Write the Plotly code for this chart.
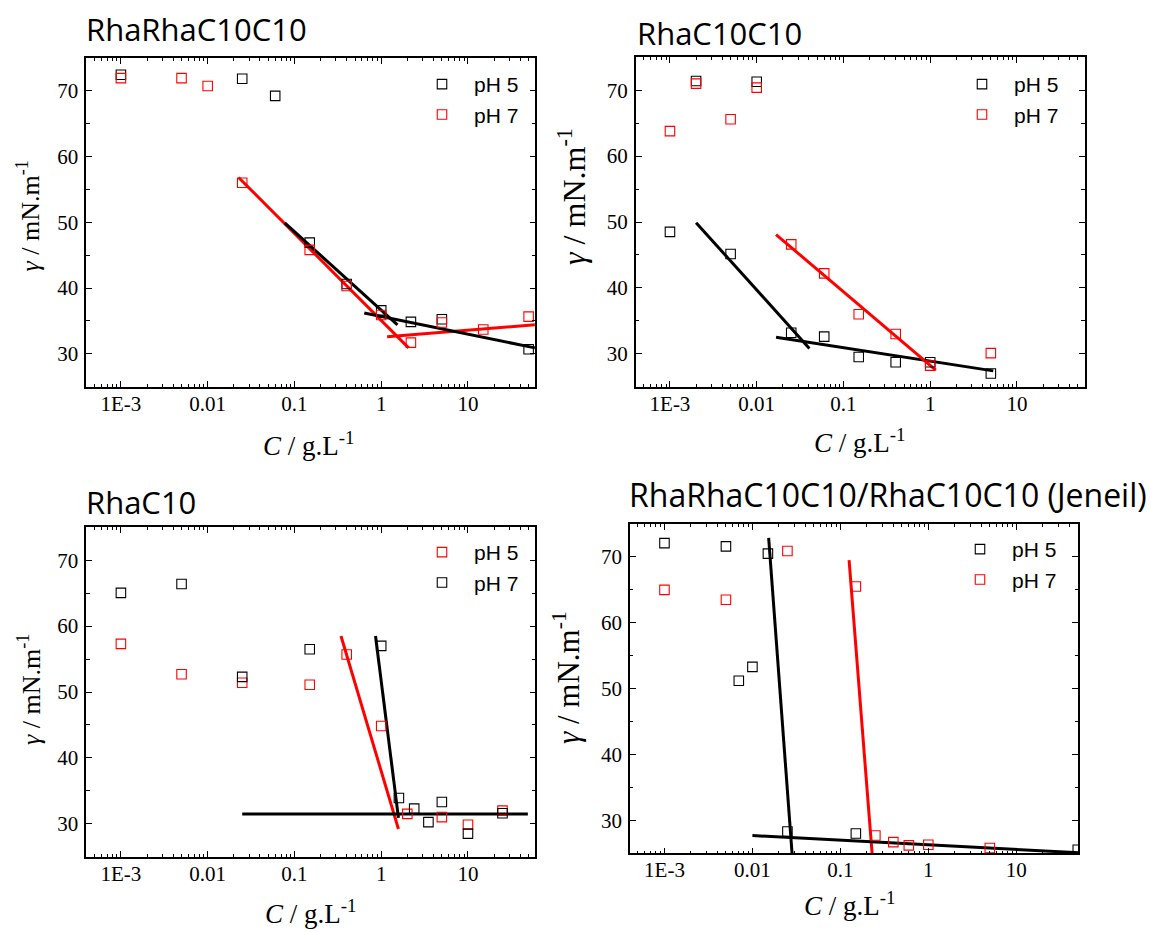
import plotly.graph_objects as go

W, H = 1151, 932

# ---------------- data ----------------
# Panel 1: RhaRhaC10C10
p1_ph5_x = [0.001, 0.025, 0.06, 0.15, 0.4, 1, 2.2, 5, 50]
p1_ph5_y = [72.4, 71.8, 69.2, 46.9, 40.6, 36.6, 34.85, 35.25, 30.7]
p1_ph7_x = [0.001, 0.005, 0.01, 0.025, 0.15, 0.4, 1, 2.2, 5, 15, 50]
p1_ph7_y = [71.9, 71.9, 70.7, 56.0, 45.8, 40.3, 35.9, 31.7, 34.75, 33.7, 35.65]
p1_fit_k1_x = [0.0773, 1.54]
p1_fit_k1_y = [49.9, 34.4]
p1_fit_k2_x = [0.638, 59]
p1_fit_k2_y = [36.2, 30.9]
p1_fit_r1_x = [0.0227, 2.07]
p1_fit_r1_y = [56.8, 30.9]
p1_fit_r2_x = [1.17, 59]
p1_fit_r2_y = [32.6, 34.4]

# Panel 2: RhaC10C10
p2_x = [0.001, 0.002, 0.005, 0.01, 0.025, 0.06, 0.15, 0.4, 1, 5]
p2_ph5_y = [48.5, 71.4, 45.15, 71.3, 33.2, 32.6, 29.5, 28.7, 28.7, 27.0]
p2_ph7_y = [63.8, 71.0, 65.6, 70.4, 46.6, 42.2, 36.0, 33.0, 28.2, 30.1]
p2_fit_k1_x = [0.002, 0.0405]
p2_fit_k1_y = [49.9, 30.8]
p2_fit_k2_x = [0.0167, 5.33]
p2_fit_k2_y = [32.5, 27.4]
p2_fit_r1_x = [0.0167, 1.16]
p2_fit_r1_y = [48.1, 27.5]

# Panel 3: RhaC10
p3_ph5_x = [0.001, 0.005, 0.025, 0.15, 0.4, 1, 2, 5, 10, 25]
p3_ph5_y = [57.3, 52.7, 51.4, 51.1, 55.7, 44.85, 31.5, 31.0, 29.85, 32.0]
p3_ph7_x = [0.001, 0.005, 0.025, 0.15, 1, 1.6, 2.4, 3.5, 5, 10, 25]
p3_ph7_y = [65.05, 66.4, 52.3, 56.5, 57.0, 33.9, 32.3, 30.25, 33.3, 28.5, 31.6]
p3_fit_k1_x = [0.025, 49]
p3_fit_k1_y = [31.5, 31.5]
p3_fit_r1_x = [0.344, 1.58]
p3_fit_r1_y = [58.5, 29.2]
p3_fit_k2_x = [0.86, 1.58]
p3_fit_k2_y = [58.5, 30.9]

# Panel 4: RhaRhaC10C10/RhaC10C10 (Jeneil)
p4_ph5_x = [0.001, 0.005, 0.007, 0.01, 0.015, 0.025, 0.15, 50]
p4_ph5_y = [72.1, 71.6, 51.2, 53.3, 70.5, 28.3, 28.0, 25.55]
p4_ph7_x = [0.001, 0.005, 0.025, 0.15, 0.25, 0.4, 0.6, 1, 5]
p4_ph7_y = [65.0, 63.5, 70.9, 65.5, 27.7, 26.7, 26.2, 26.3, 25.8]
p4_fit_k1_x = [0.0153, 0.0284]
p4_fit_k1_y = [72.9, 24.5]
p4_fit_r1_x = [0.1256, 0.231]
p4_fit_r1_y = [69.5, 24.5]
p4_fit_k2_x = [0.01, 67]
p4_fit_k2_y = [27.7, 25.0]

titles = ["RhaRhaC10C10", "RhaC10C10", "RhaC10", "RhaRhaC10C10/RhaC10C10 (Jeneil)"]
y_title = "<i>γ</i> / mN.m<sup>-1</sup>"
x_title = "<i>C</i> / g.L<sup>-1</sup>"

# ---------------- layout geometry (pixels) ----------------
boxes = [  # left, right, top, bottom
    (86.2, 535.3, 57.7, 386.7),
    (635.7, 1084.7, 57.3, 386.7),
    (86.2, 535.3, 527.3, 856.7),
    (629.9, 1078.2, 524.0, 853.3),
]
xranges = [[-3.40, 1.776], [-3.395, 1.781], [-3.40, 1.776], [-3.393, 1.704]]

BLACK = "black"
RED = "#ff0000"

fig = go.Figure()


def pts(x, y, color, name, i, legend):
    fig.add_trace(go.Scatter(
        x=x, y=y, mode="markers", name=name,
        marker=dict(symbol="square-open", size=9.5, color=color, line=dict(width=1.1)),
        xaxis="x" + ("" if i == 1 else str(i)), yaxis="y" + ("" if i == 1 else str(i)),
        legend=legend, showlegend=True))


def fit(x, y, color, i):
    fig.add_trace(go.Scatter(
        x=x, y=y, mode="lines", line=dict(color=color, width=3),
        xaxis="x" + ("" if i == 1 else str(i)), yaxis="y" + ("" if i == 1 else str(i)),
        showlegend=False, hoverinfo="skip"))


# panel 1
fit(p1_fit_r1_x, p1_fit_r1_y, RED, 1)
fit(p1_fit_r2_x, p1_fit_r2_y, RED, 1)
fit(p1_fit_k1_x, p1_fit_k1_y, BLACK, 1)
fit(p1_fit_k2_x, p1_fit_k2_y, BLACK, 1)
pts(p1_ph5_x, p1_ph5_y, BLACK, "pH 5", 1, "legend")
pts(p1_ph7_x, p1_ph7_y, RED, "pH 7", 1, "legend")
# panel 2
fit(p2_fit_k1_x, p2_fit_k1_y, BLACK, 2)
fit(p2_fit_k2_x, p2_fit_k2_y, BLACK, 2)
fit(p2_fit_r1_x, p2_fit_r1_y, RED, 2)
pts(p2_x, p2_ph5_y, BLACK, "pH 5", 2, "legend2")
pts(p2_x, p2_ph7_y, RED, "pH 7", 2, "legend2")
# panel 3
fit(p3_fit_r1_x, p3_fit_r1_y, RED, 3)
fit(p3_fit_k1_x, p3_fit_k1_y, BLACK, 3)
fit(p3_fit_k2_x, p3_fit_k2_y, BLACK, 3)
pts(p3_ph5_x, p3_ph5_y, RED, "pH 5", 3, "legend3")
pts(p3_ph7_x, p3_ph7_y, BLACK, "pH 7", 3, "legend3")
# panel 4
fit(p4_fit_k1_x, p4_fit_k1_y, BLACK, 4)
fit(p4_fit_r1_x, p4_fit_r1_y, RED, 4)
fit(p4_fit_k2_x, p4_fit_k2_y, BLACK, 4)
pts(p4_ph5_x, p4_ph5_y, BLACK, "pH 5", 4, "legend4")
pts(p4_ph7_x, p4_ph7_y, RED, "pH 7", 4, "legend4")

layout = dict(width=W, height=H, margin=dict(l=0, r=0, t=0, b=0),
              paper_bgcolor="white", plot_bgcolor="white", showlegend=True)

tickfont = dict(family="Liberation Serif", size=21, color="black")
for i, (l, r, t, b) in enumerate(boxes, start=1):
    sfx = "" if i == 1 else str(i)
    layout["xaxis" + sfx] = dict(
        type="log", range=xranges[i - 1], domain=[l / W, r / W], anchor="y" + sfx,
        showline=True, linecolor="black", linewidth=1.6, mirror="allticks",
        ticks="inside", ticklen=6, tickwidth=1.2, tickcolor="black",
        dtick=1, exponentformat="none", labelalias={"0.001": "1E-3"},
        tickfont=tickfont, showgrid=False, zeroline=False, ticklabelstandoff=-3,
        minor=dict(ticks="inside", ticklen=3, dtick="D1", tickcolor="black", tickwidth=1, showgrid=False))
    layout["yaxis" + sfx] = dict(
        range=[25, 75], domain=[1 - b / H, 1 - t / H], anchor="x" + sfx,
        showline=True, linecolor="black", linewidth=1.6, mirror="allticks",
        ticks="inside", ticklen=6, tickwidth=1.2, tickcolor="black",
        tick0=0, dtick=10, tickfont=tickfont, showgrid=False, zeroline=False,
        ticklabelstandoff=2,
        minor=dict(ticks="inside", ticklen=3.5, dtick=5, tickcolor="black", tickwidth=1, showgrid=False))

legend_pos = [(410, 64), (950, 64), (410, 532), (948, 529)]
for i, (lx, ly) in enumerate(legend_pos, start=1):
    key = "legend" if i == 1 else "legend" + str(i)
    layout[key] = dict(x=lx / W, y=1 - ly / H, xanchor="left", yanchor="top",
                       bgcolor="rgba(0,0,0,0)", borderwidth=0, itemwidth=54,
                       font=dict(family="Liberation Sans", size=21, color="black"),
                       tracegroupgap=0)

ann = []
title_pos = [(84.3, 29, 31), (634.6, 33, 31), (84.3, 502, 31), (626.6, 494, 32)]
for txt, (tx, ty, fs) in zip(titles, title_pos):
    ann.append(dict(text=txt, x=tx / W, y=1 - ty / H, xref="paper", yref="paper",
                    xanchor="left", yanchor="middle", showarrow=False,
                    font=dict(family="Open Sans", size=fs, color="black")))

ytitle_pos = [(29, 216.5, 26), (572, 197, 32), (29, 690, 26), (566, 678, 31)]
for (yx, yy, fs) in ytitle_pos:
    ann.append(dict(text=y_title, x=yx / W, y=1 - yy / H, xref="paper", yref="paper",
                    xanchor="center", yanchor="middle", textangle=-90, showarrow=False,
                    font=dict(family="Liberation Serif", size=fs, color="black")))

xtitle_pos = [(309, 444), (860, 441), (310.5, 912), (849.5, 904)]
for (xx, xy) in xtitle_pos:
    ann.append(dict(text=x_title, x=xx / W, y=1 - xy / H, xref="paper", yref="paper",
                    xanchor="center", yanchor="middle", showarrow=False,
                    font=dict(family="Liberation Serif", size=27, color="black")))

layout["annotations"] = ann
fig.update_layout(**layout)
fig.write_html("out.html", config={"displayModeBar": False},
               post_script="document.body.style.margin='0';document.body.style.overflow='hidden';")
